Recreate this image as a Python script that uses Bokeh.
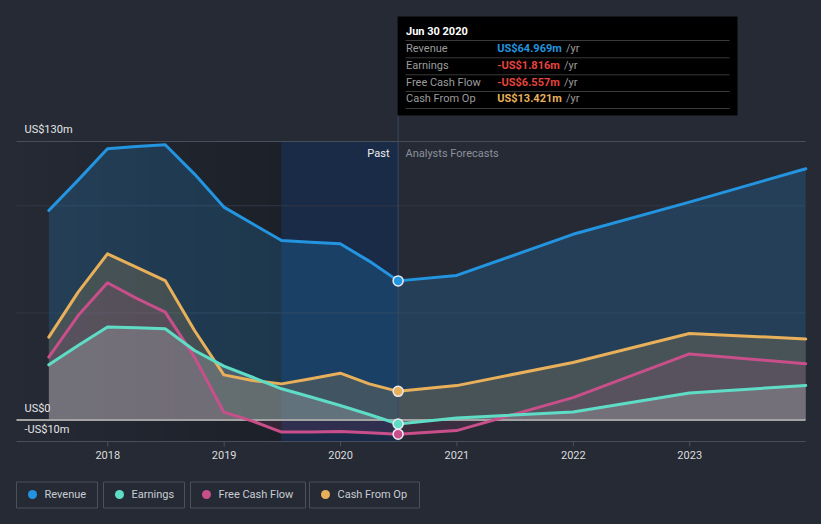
import datetime as dt
import numpy as np
from bokeh.plotting import figure
from bokeh.models import Range1d
from bokeh.core.properties import value
from bokeh.embed import file_html
from bokeh.resources import INLINE

# ---------------- data (US$ millions) ----------------
past_dates = ["2017-06-30", "2017-09-30", "2017-12-31", "2018-03-31", "2018-06-30",
              "2018-09-30", "2018-12-31", "2019-03-31", "2019-06-30", "2019-09-30",
              "2019-12-31", "2020-03-31", "2020-06-30"]
revenue_past = [97.8, 112.0, 126.6, 127.7, 128.5, 114.8, 99.4, 91.6, 83.8, 83.0, 82.3, 74.2, 64.969]
earnings_past = [25.8, 34.8, 43.4, 43.1, 42.6, 32.5, 25.2, 20.0, 14.6, 10.8, 6.8, 2.6, -1.816]
fcf_past = [29.4, 48.8, 64.1, 56.9, 50.4, 29.4, 3.7, -0.5, -5.6, -5.6, -5.3, -5.9, -6.557]
cfo_past = [38.7, 59.7, 77.6, 71.4, 65.1, 41.8, 21.1, 18.5, 16.9, 19.3, 21.9, 16.9, 13.421]

forecast_dates = ["2020-12-31", "2021-12-31", "2022-12-31", "2023-12-31"]
revenue_fc = [67.5, 86.7, 101.7, 117.3]
earnings_fc = [1.0, 3.8, 12.6, 16.2]
fcf_fc = [-4.9, 10.5, 30.9, 26.3]
cfo_fc = [16.1, 26.9, 40.4, 37.9]

series_names = ["Revenue", "Earnings", "Free Cash Flow", "Cash From Op"]
series_colors = ["#2394df", "#5fdcc6", "#c94f8a", "#e8b05a"]
tooltip_labels = ["Revenue", "Earnings", "Free Cash Flow", "Cash From Op"]

year_ticks = [2018, 2019, 2020, 2021, 2022, 2023]
grid_values = [130, 100, 50]
y_label_values = [130, 0, -10]
y_label_texts = ["US$130m", "US$0", "-US$10m"]

past_start = "2019-06-30"   # start of the highlighted last-year band
focus_date = "2020-06-30"


def yf(s):
    d = dt.date.fromisoformat(s)
    start = dt.date(d.year, 1, 1)
    days = (dt.date(d.year + 1, 1, 1) - start).days
    return d.year + (d - start).days / days


# pixel (reference) -> data helpers, used for decoration placement only
def dx(px):
    return 2018 + (px - 107.3) / 116.38


def dy(py):
    return (419.6 - py) / 2.1429


BG = "#252a35"
FONT = value("Roboto")

p = figure(width=805, height=508, output_backend="svg", toolbar_location=None,
           x_range=Range1d(dx(8), dx(813)), y_range=Range1d(dy(516), dy(8)),
           min_border=0, min_border_left=0, min_border_right=0,
           min_border_top=0, min_border_bottom=0)
p.axis.visible = False
p.grid.visible = False
p.outline_line_color = None
p.background_fill_color = BG
p.border_fill_color = BG

x_left = dx(16)
x_right = dx(805)
y_top = grid_values[0]
y_bot = y_label_values[-1]

# past region gradient (darkening toward the last year)
n = 40
edges = np.linspace(x_left, yf(past_start), n + 1)
alphas = np.linspace(0.0, 0.22, n)
p.quad(left=edges[:-1], right=edges[1:], top=y_top, bottom=y_bot,
       fill_color="black", fill_alpha=alphas, line_color=None)
# highlighted last-year band
p.quad(left=[yf(past_start)], right=[yf(focus_date)], top=y_top, bottom=y_bot,
       fill_color="#1a2b47", line_color=None)

# grid lines
p.segment(x0=[x_left] * 3, x1=[x_right] * 3, y0=grid_values, y1=grid_values,
          line_color=["#4a505c", "#323846", "#323846"], line_width=1)
# bottom axis line
p.segment(x0=[x_left], x1=[x_right], y0=[y_bot], y1=[y_bot], line_color="#4a505c", line_width=1)
# ticks
tick_x = [float(t) for t in year_ticks]
p.segment(x0=tick_x, x1=tick_x, y0=[y_bot] * len(tick_x), y1=[dy(446)] * len(tick_x),
          line_color="#4a505c", line_width=1)

# series
xs = [yf(d) for d in past_dates] + [yf(d) for d in forecast_dates]
all_vals = [revenue_past + revenue_fc, earnings_past + earnings_fc,
            fcf_past + fcf_fc, cfo_past + cfo_fc]

# order of fills: revenue, cash from op, free cash flow, earnings
p.varea(x=xs, y1=0, y2=all_vals[0], fill_color="#2394df", fill_alpha=0.2)
p.varea(x=xs, y1=0, y2=all_vals[3], fill_color="#e8b05a", fill_alpha=0.18)
p.varea(x=xs, y1=0, y2=all_vals[2], fill_color="#c94f8a", fill_alpha=0.13)
p.varea(x=xs, y1=0, y2=all_vals[1], fill_color="#c4c8cc", fill_alpha=0.26)

# zero line
p.segment(x0=[x_left], x1=[x_right], y0=[0], y1=[0], line_color="#a3a3a3", line_width=2)

# vertical marker line at focus date
fx = yf(focus_date)
p.segment(x0=[fx], x1=[fx], y0=[y_bot], y1=[dy(16)], line_color="#3c4a64", line_width=1)

for vals, col in zip([all_vals[0], all_vals[3], all_vals[2], all_vals[1]],
                     [series_colors[0], series_colors[3], series_colors[2], series_colors[1]]):
    p.line(x=xs, y=vals, line_color=col, line_width=3, line_join="round", line_cap="round")

last_vals = [revenue_past[-1], earnings_past[-1], fcf_past[-1], cfo_past[-1]]
p.scatter(x=[fx] * 4, y=last_vals, size=10, fill_color=series_colors,
          line_color="#e8ecf0", line_width=1.5)

# y labels
p.text(x=[dx(24)] * 3, y=[dy(129), dy(408), dy(429)], text=y_label_texts,
       text_font=FONT, text_font_size="11px", text_color="#e6e6e6",
       text_baseline="middle", text_align="left")
# x tick labels
p.text(x=tick_x, y=[dy(454)] * len(tick_x), text=[str(t) for t in year_ticks],
       text_font=FONT, text_font_size="11px", text_color="#dcdcdc",
       text_baseline="middle", text_align="center")

# Past / Analysts Forecasts
p.text(x=[dx(389)], y=[dy(153)], text=["Past"], text_font=FONT, text_font_size="11px",
       text_color="#f0f0f0", text_baseline="middle", text_align="right")
p.text(x=[dx(405)], y=[dy(153)], text=["Analysts Forecasts"], text_font=FONT,
       text_font_size="11px", text_color="#8c919a", text_baseline="middle", text_align="left")

# tooltip box
p.quad(left=[dx(397)], right=[dx(737)], top=[dy(16)], bottom=[dy(115)],
       fill_color="black", line_color=None)
sep_y = [40, 57.3, 74.3, 91, 108]
p.segment(x0=[dx(405)] * 5, x1=[dx(729)] * 5, y0=[dy(v) for v in sep_y], y1=[dy(v) for v in sep_y],
          line_color="#3a3a3a", line_width=1)
d = dt.date.fromisoformat(focus_date)
p.text(x=[dx(405.5)], y=[dy(30.7)], text=[d.strftime("%b %d %Y")], text_font=FONT,
       text_font_size="11px", text_font_style="bold", text_color="#ffffff",
       text_baseline="middle", text_align="left")


def fmt(v):
    return ("-" if v < 0 else "") + "US$" + f"{abs(v):.3f}m"


row_y = [48.3, 65, 81.7, 98.3]
val_cols = ["#e5443f" if v < 0 else c for v, c in zip(last_vals, series_colors)]
p.text(x=[dx(405.5)] * 4, y=[dy(v) for v in row_y], text=tooltip_labels, text_font=FONT,
       text_font_size="11px", text_color="#9c9c9c", text_baseline="middle", text_align="left")
p.text(x=[dx(496.7)] * 4, y=[dy(v) for v in row_y], text=[fmt(v) for v in last_vals],
       text_font=FONT, text_font_size="11px", text_font_style="bold", text_color=val_cols,
       text_baseline="middle", text_align="left")
yr_x = [565.5, 563.5, 563.5, 565.5]
p.text(x=[dx(v) for v in yr_x], y=[dy(v) for v in row_y], text=["/yr"] * 4, text_font=FONT,
       text_font_size="11px", text_color="#9c9c9c", text_baseline="middle", text_align="left")

# legend
box_l = [16, 103, 190, 309]
box_r = [97, 184, 305, 419]
p.quad(left=[dx(v) for v in box_l], right=[dx(v) for v in box_r],
       top=[dy(481.5)] * 4, bottom=[dy(507.5)] * 4,
       fill_color=None, line_color="#4a505c", line_width=1)
p.scatter(x=[dx(v + 16) for v in box_l], y=[dy(494)] * 4, size=9,
          fill_color=series_colors, line_color=None)
p.text(x=[dx(v + 28) for v in box_l], y=[dy(494)] * 4, text=series_names, text_font=FONT,
       text_font_size="11px", text_color="#c9cdd3", text_baseline="middle", text_align="left")

html = file_html(p, INLINE)
html = html.replace("</head>", "<style>html{background:%s;margin:0;}body{background:%s;margin:8px;}</style></head>" % (BG, BG), 1)
open("out.html", "w").write(html)
